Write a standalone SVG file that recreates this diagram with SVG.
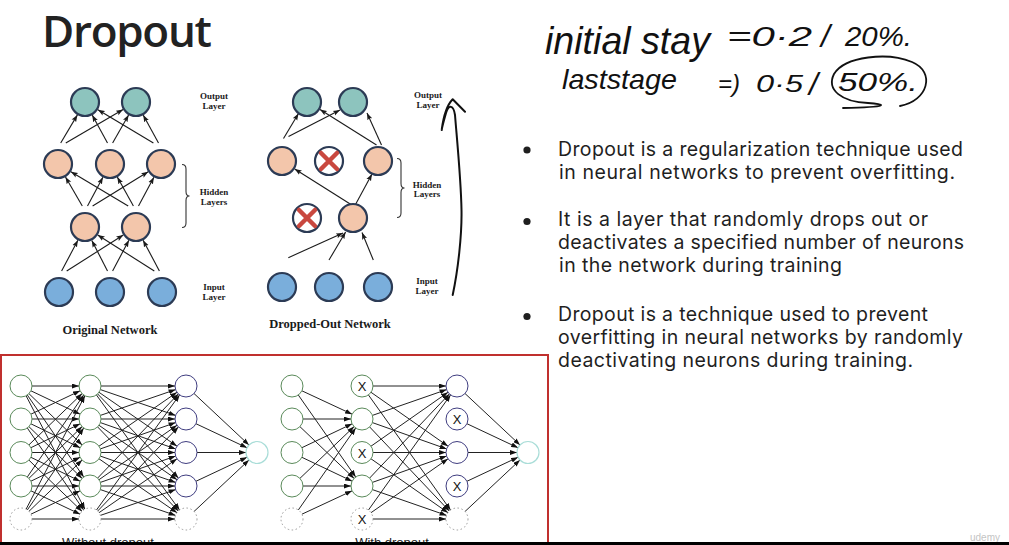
<svg xmlns="http://www.w3.org/2000/svg" width="1009" height="545" viewBox="0 0 1009 545">
  <style>
    .title { font-family: "Open Sans", "Liberation Sans", sans-serif; font-weight: 600; font-size: 44px; fill: #222; }
    .lbl { font-family: "Liberation Serif", serif; font-weight: bold; font-size: 9px; fill: #1a1a1a; text-anchor: middle; }
    .cap { font-family: "Liberation Serif", serif; font-weight: bold; font-size: 12.5px; fill: #1a1a1a; text-anchor: middle; }
    .hand { font-family: "Liberation Sans", sans-serif; font-style: italic; fill: #111; }
    .body { font-family: "Inter", "Liberation Sans", sans-serif; font-size: 19.5px; fill: #1f1f1f; }
    .out { fill: #8dc4be; stroke: #2c3b55; stroke-width: 2.2; }
    .hid { fill: #f3c6ab; stroke: #2c3b55; stroke-width: 2.2; }
    .inp { fill: #7aaedb; stroke: #2c3b55; stroke-width: 2.2; }
    .drop { fill: #ffffff; stroke: #2c3b55; stroke-width: 2.2; }
    .cross { stroke: #c9483f; stroke-width: 4.5; stroke-linecap: round; }
    .brace { fill: none; stroke: #333; stroke-width: 1.1; }
    .tl { stroke: #1a1a1a; stroke-width: 1.1; fill: none; marker-end: url(#ah); }
    .bl { stroke: #222; stroke-width: 1; fill: none; marker-end: url(#bh); }
    .g { fill: #fff; stroke: #5a8a5a; stroke-width: 1; }
    .p { fill: #fff; stroke: #3f3d80; stroke-width: 1; }
    .o { fill: #fff; stroke: #a9ddd8; stroke-width: 1.2; }
    .b { fill: #fff; stroke: #999; stroke-width: 1; stroke-dasharray: 1.5 2.5; }
    .x { font-family: "Liberation Sans", sans-serif; font-size: 13px; fill: #111; text-anchor: middle; }
    .small { font-family: "Liberation Sans", sans-serif; font-size: 13px; fill: #222; text-anchor: middle; }
  </style>
  <defs>
    <marker id="ah" markerUnits="userSpaceOnUse" markerWidth="7" markerHeight="6" refX="7" refY="3" orient="auto">
      <path d="M0,0.4 L7,3 L0,5.6 L1.4,3 z" fill="#1a1a1a"/>
    </marker>
    <marker id="bh" markerUnits="userSpaceOnUse" markerWidth="7" markerHeight="5" refX="7" refY="2.5" orient="auto">
      <path d="M0,0 L7,2.5 L0,5 z" fill="#111"/>
    </marker>
  </defs>

  <rect width="1009" height="545" fill="#ffffff"/>

  <!-- heading -->
  <text id="title" class="title" x="42" y="47" textLength="170">Dropout</text>

  <!-- handwritten notes -->
  <g id="notes">
    <text class="hand" x="545" y="54" font-size="38" textLength="165" lengthAdjust="spacingAndGlyphs">initial stay</text>
    <text class="hand" x="727" y="46" font-size="27" textLength="85" lengthAdjust="spacingAndGlyphs">=0·2</text>
    <text class="hand" x="821" y="47" font-size="32">/</text>
    <text class="hand" x="845" y="46" font-size="27" textLength="67" lengthAdjust="spacingAndGlyphs">20%.</text>
    <text class="hand" x="562" y="89" font-size="28" textLength="115" lengthAdjust="spacingAndGlyphs">laststage</text>
    <text class="hand" x="718" y="92" font-size="23" textLength="22" lengthAdjust="spacingAndGlyphs">=)</text>
    <text class="hand" x="756" y="92" font-size="23" textLength="47" lengthAdjust="spacingAndGlyphs">0·5</text>
    <text class="hand" x="809" y="95" font-size="32">/</text>
    <text class="hand" x="838" y="91" font-size="25" textLength="80" lengthAdjust="spacingAndGlyphs">50%.</text>
    <path d="M900,106 C928,101 936,72 912,62 C888,52 845,56 834,74 C826,90 842,102 868,103 C885,104 893,107 843,108" fill="none" stroke="#111" stroke-width="1.8" stroke-linecap="round"/>
  </g>

  <!-- bullet points -->
  <g id="bullets">
    <circle cx="527" cy="150" r="3.6" fill="#1f1f1f"/>
    <circle cx="527" cy="221.5" r="3.6" fill="#1f1f1f"/>
    <circle cx="527" cy="316.5" r="3.6" fill="#1f1f1f"/>
    <text class="body" x="558" y="156" textLength="405">Dropout is a regularization technique used</text>
    <text class="body" x="559" y="178.5" textLength="396">in neural networks to prevent overfitting.</text>
    <text class="body" x="558" y="226" textLength="370">It is a layer that randomly drops out or</text>
    <text class="body" x="558" y="248.5" textLength="406">deactivates a specified number of neurons</text>
    <text class="body" x="559" y="271.5" textLength="283">in the network during training</text>
    <text class="body" x="558" y="320.5" textLength="370">Dropout is a technique used to prevent</text>
    <text class="body" x="558" y="343.5" textLength="405">overfitting in neural networks by randomly</text>
    <text class="body" x="558" y="366.5" textLength="355">deactivating neurons during training.</text>
  </g>

  <!-- original network: connectors -->
  <g id="orig-edges">
    <path class="tl" d="M61.6,271 L77.9,240.2"/>
    <path class="tl" d="M66.7,271 L123.3,235"/>
    <path class="tl" d="M107.5,271 L91.8,240.4"/>
    <path class="tl" d="M112.6,271 L128.9,240.2"/>
    <path class="tl" d="M159.4,271 L143.1,240.2"/>
    <path class="tl" d="M154.3,271 L97.7,235"/>
    <path class="tl" d="M82.3,206 L65.5,177"/>
    <path class="tl" d="M87.5,206 L102.9,177.2"/>
    <path class="tl" d="M92.6,206 L148.2,171.8"/>
    <path class="tl" d="M128.2,206 L70.9,171.7"/>
    <path class="tl" d="M133.4,206 L117.3,177.1"/>
    <path class="tl" d="M138.5,206 L153.9,177.2"/>
    <path class="tl" d="M60.7,143 L77.4,114.9"/>
    <path class="tl" d="M65.8,143 L123.1,109.6"/>
    <path class="tl" d="M107.5,143 L92.2,115.1"/>
    <path class="tl" d="M112.6,143 L128.6,115"/>
    <path class="tl" d="M153.4,143 L97.9,109.7"/>
    <path class="tl" d="M158.5,143 L143.2,115.1"/>
  </g>
  <!-- original network: neurons -->
  <g id="orig-out1"><circle class="out" cx="85" cy="102" r="14"/></g>
  <g id="orig-out2"><circle class="out" cx="136" cy="102" r="14"/></g>
  <g id="orig-h1a"><circle class="hid" cx="58" cy="164" r="14"/></g>
  <g id="orig-h1b"><circle class="hid" cx="110" cy="164" r="14"/></g>
  <g id="orig-h1c"><circle class="hid" cx="161" cy="164" r="14"/></g>
  <g id="orig-h2a"><circle class="hid" cx="85" cy="227" r="14"/></g>
  <g id="orig-h2b"><circle class="hid" cx="136" cy="227" r="14"/></g>
  <g id="orig-in1"><circle class="inp" cx="59" cy="292" r="14"/></g>
  <g id="orig-in2"><circle class="inp" cx="110" cy="292" r="14"/></g>
  <g id="orig-in3"><circle class="inp" cx="162" cy="292" r="14"/></g>
  <g id="orig-labels">
    <text class="lbl" x="214" y="99">Output</text>
    <text class="lbl" x="214" y="109">Layer</text>
    <text class="lbl" x="214" y="195">Hidden</text>
    <text class="lbl" x="214" y="204.5">Layers</text>
    <text class="lbl" x="214" y="290">Input</text>
    <text class="lbl" x="214" y="300">Layer</text>
    <path class="brace" d="M182,164.5 Q186,164.5 186,169 L186,191.5 Q186,196 189.5,196 Q186,196 186,200.5 L186,223 Q186,227.5 182,227.5"/>
    <text class="cap" x="110" y="334">Original Network</text>
  </g>

  <!-- dropped-out network: connectors -->
  <g id="drop-edges">
    <path class="tl" d="M288.3,257.7 L343,233"/>
    <path class="tl" d="M329,260 L345.6,232"/>
    <path class="tl" d="M373.3,260 L362,232.5"/>
    <path class="tl" d="M351,204.5 L294.7,169"/>
    <path class="tl" d="M355.5,204.5 L372,174"/>
    <path class="tl" d="M283.5,138.5 L298.5,113.5"/>
    <path class="tl" d="M288.5,136.5 L340,110"/>
    <path class="tl" d="M376.5,145 L320,109.5"/>
    <path class="tl" d="M381.5,145 L367,113"/>
  </g>
  <!-- dropped-out network: neurons -->
  <g id="drop-out1"><circle class="out" cx="307" cy="102" r="14"/></g>
  <g id="drop-out2"><circle class="out" cx="353" cy="102" r="14"/></g>
  <g id="drop-h1a"><circle class="hid" cx="282" cy="161" r="14"/></g>
  <g id="drop-h1x"><circle class="drop" cx="329" cy="161" r="14"/><path class="cross" d="M321,153 L337,169 M337,153 L321,169"/></g>
  <g id="drop-h1c"><circle class="hid" cx="378" cy="161" r="14"/></g>
  <g id="drop-h2x"><circle class="drop" cx="307" cy="218" r="14"/><path class="cross" d="M299,210 L315,226 M315,210 L299,226"/></g>
  <g id="drop-h2b"><circle class="hid" cx="353" cy="218" r="14"/></g>
  <g id="drop-in1"><circle class="inp" cx="282" cy="287" r="14"/></g>
  <g id="drop-in2"><circle class="inp" cx="329" cy="287" r="14"/></g>
  <g id="drop-in3"><circle class="inp" cx="378" cy="287" r="14"/></g>
  <g id="drop-labels">
    <text class="lbl" x="428" y="98">Output</text>
    <text class="lbl" x="428" y="107.5">Layer</text>
    <text class="lbl" x="427" y="188">Hidden</text>
    <text class="lbl" x="427" y="197">Layers</text>
    <text class="lbl" x="427" y="283.5">Input</text>
    <text class="lbl" x="427" y="293.5">Layer</text>
    <path class="brace" d="M397,158.5 Q401,158.5 401,163 L401,183.5 Q401,188 404.5,188 Q401,188 401,192.5 L401,213 Q401,217.5 397,217.5"/>
    <text class="cap" x="330" y="328">Dropped-Out Network</text>
  </g>

  <!-- hand-drawn upward arrow -->
  <path id="pen-arrow" d="M452.7,295 C458,270 462,235 461.5,210 C461,180 457,140 455,115 C453.5,105 449,104 446,113 C444,120 442,127 441.7,130 C443,120 446,106 452.7,99.3 L465,111.7" fill="none" stroke="#111" stroke-width="2" stroke-linecap="round" stroke-linejoin="round"/>

  <!-- framed comparison panel -->
  <rect id="panel" x="1" y="355" width="547" height="200" fill="none" stroke="#c0302e" stroke-width="2"/>

  <!-- without dropout: connectors -->
  <g id="full-edges">
    <path class="bl" d="M32,386 L79,386"/>
    <path class="bl" d="M30.9,390.8 L80.1,414.2"/>
    <path class="bl" d="M28.9,393.6 L82.1,444.9"/>
    <path class="bl" d="M27.3,395 L83.7,477"/>
    <path class="bl" d="M26.1,395.8 L84.9,509.2"/>
    <path class="bl" d="M30.9,414.2 L80.1,390.8"/>
    <path class="bl" d="M32,419 L79,419"/>
    <path class="bl" d="M30.9,423.8 L80.1,447.7"/>
    <path class="bl" d="M28.9,426.6 L82.1,478.4"/>
    <path class="bl" d="M27.3,428 L83.7,510"/>
    <path class="bl" d="M28.9,444.9 L82.1,393.6"/>
    <path class="bl" d="M30.9,447.7 L80.1,423.8"/>
    <path class="bl" d="M32,452.5 L79,452.5"/>
    <path class="bl" d="M30.9,457.3 L80.1,481.2"/>
    <path class="bl" d="M28.9,460.1 L82.1,511.4"/>
    <path class="bl" d="M27.3,477 L83.7,395"/>
    <path class="bl" d="M28.9,478.4 L82.1,426.6"/>
    <path class="bl" d="M30.9,481.2 L80.1,457.3"/>
    <path class="bl" d="M32,486 L79,486"/>
    <path class="bl" d="M30.9,490.8 L80.1,514.2"/>
    <path class="bl" d="M26.1,509.2 L84.9,395.8"/>
    <path class="bl" d="M27.3,510 L83.7,428"/>
    <path class="bl" d="M28.9,511.4 L82.1,460.1"/>
    <path class="bl" d="M30.9,514.2 L80.1,490.8"/>
    <path class="bl" d="M32,519 L79,519"/>

    <path class="bl" d="M101,386 L175,386"/>
    <path class="bl" d="M100.4,389.6 L175.6,415.4"/>
    <path class="bl" d="M99,392.3 L177,446.2"/>
    <path class="bl" d="M97.6,393.9 L178.4,478.1"/>
    <path class="bl" d="M96.4,394.9 L179.6,510.1"/>
    <path class="bl" d="M100.4,415.4 L175.6,389.6"/>
    <path class="bl" d="M101,419 L175,419"/>
    <path class="bl" d="M100.4,422.6 L175.6,448.9"/>
    <path class="bl" d="M99,425.3 L177,479.7"/>
    <path class="bl" d="M97.6,426.9 L178.4,511.1"/>
    <path class="bl" d="M99,446.2 L177,392.3"/>
    <path class="bl" d="M100.4,448.9 L175.6,422.6"/>
    <path class="bl" d="M101,452.5 L175,452.5"/>
    <path class="bl" d="M100.4,456.1 L175.6,482.4"/>
    <path class="bl" d="M99,458.8 L177,512.7"/>
    <path class="bl" d="M97.6,478.1 L178.4,393.9"/>
    <path class="bl" d="M99,479.7 L177,425.3"/>
    <path class="bl" d="M100.4,482.4 L175.6,456.1"/>
    <path class="bl" d="M101,486 L175,486"/>
    <path class="bl" d="M100.4,489.6 L175.6,515.4"/>
    <path class="bl" d="M96.4,510.1 L179.6,394.9"/>
    <path class="bl" d="M97.6,511.1 L178.4,426.9"/>
    <path class="bl" d="M99,512.7 L177,458.8"/>
    <path class="bl" d="M100.4,515.4 L175.6,489.6"/>
    <path class="bl" d="M101,519 L175,519"/>

    <path class="bl" d="M194,393.5 L249,445"/>
    <path class="bl" d="M195.9,423.7 L247.1,447.8"/>
    <path class="bl" d="M197,452.5 L246,452.5"/>
    <path class="bl" d="M195.9,481.3 L247.1,457.2"/>
    <path class="bl" d="M194,511.5 L249,460"/>
  </g>
  <!-- without dropout: neurons -->
  <g id="full-l1">
    <circle class="g" cx="21" cy="386" r="11"/>
    <circle class="g" cx="21" cy="419" r="11"/>
    <circle class="g" cx="21" cy="452.5" r="11"/>
    <circle class="g" cx="21" cy="486" r="11"/>
    <circle class="b" cx="21" cy="519" r="11"/>
  </g>
  <g id="full-l2">
    <circle class="g" cx="90" cy="386" r="11"/>
    <circle class="g" cx="90" cy="419" r="11"/>
    <circle class="g" cx="90" cy="452.5" r="11"/>
    <circle class="g" cx="90" cy="486" r="11"/>
    <circle class="b" cx="90" cy="519" r="11"/>
  </g>
  <g id="full-l3">
    <circle class="p" cx="186" cy="386" r="11"/>
    <circle class="p" cx="186" cy="419" r="11"/>
    <circle class="p" cx="186" cy="452.5" r="11"/>
    <circle class="p" cx="186" cy="486" r="11"/>
    <circle class="b" cx="186" cy="519" r="11"/>
  </g>
  <g id="full-out"><circle class="o" cx="257" cy="452.5" r="11"/></g>
  <text class="small" x="108" y="547">Without dropout</text>

  <!-- with dropout: connectors -->
  <g id="thin-edges">
    <path class="bl" d="M301.9,390.8 L352.1,414.2"/>
    <path class="bl" d="M298.3,395 L355.7,477"/>
    <path class="bl" d="M303,419 L351,419"/>
    <path class="bl" d="M299.9,426.6 L354.1,478.4"/>
    <path class="bl" d="M301.9,447.7 L352.1,423.8"/>
    <path class="bl" d="M301.9,457.3 L352.1,481.2"/>
    <path class="bl" d="M299.9,478.4 L354.1,426.6"/>
    <path class="bl" d="M303,486 L351,486"/>
    <path class="bl" d="M298.3,510 L355.7,428"/>
    <path class="bl" d="M301.9,514.2 L352.1,490.8"/>

    <path class="bl" d="M373,386 L446,386"/>
    <path class="bl" d="M371,392.3 L448,446.2"/>
    <path class="bl" d="M368.4,394.9 L450.6,510.1"/>
    <path class="bl" d="M372.4,415.4 L446.6,389.6"/>
    <path class="bl" d="M372.4,422.6 L446.6,448.9"/>
    <path class="bl" d="M369.6,426.9 L449.4,511.1"/>
    <path class="bl" d="M371,446.2 L448,392.3"/>
    <path class="bl" d="M373,452.5 L446,452.5"/>
    <path class="bl" d="M371,458.8 L448,512.7"/>
    <path class="bl" d="M369.6,478.1 L449.4,393.9"/>
    <path class="bl" d="M372.4,482.4 L446.6,456.1"/>
    <path class="bl" d="M372.4,489.6 L446.6,515.4"/>
    <path class="bl" d="M368.4,510.1 L450.6,394.9"/>
    <path class="bl" d="M371,512.7 L448,458.8"/>
    <path class="bl" d="M373,519 L446,519"/>

    <path class="bl" d="M465,393.5 L520,445"/>
    <path class="bl" d="M466.9,423.7 L518.1,447.8"/>
    <path class="bl" d="M468,452.5 L517,452.5"/>
    <path class="bl" d="M466.9,481.3 L518.1,457.2"/>
    <path class="bl" d="M465,511.5 L520,460"/>
  </g>
  <!-- with dropout: neurons -->
  <g id="thin-l1">
    <circle class="g" cx="292" cy="386" r="11"/>
    <circle class="g" cx="292" cy="419" r="11"/>
    <circle class="g" cx="292" cy="452.5" r="11"/>
    <circle class="g" cx="292" cy="486" r="11"/>
    <circle class="b" cx="292" cy="519" r="11"/>
  </g>
  <g id="thin-l2">
    <circle class="g" cx="362" cy="386" r="11"/><text class="x" x="362" y="391">X</text>
    <circle class="g" cx="362" cy="419" r="11"/>
    <circle class="g" cx="362" cy="452.5" r="11"/><text class="x" x="362" y="457.5">X</text>
    <circle class="g" cx="362" cy="486" r="11"/>
    <circle class="b" cx="362" cy="519" r="11"/><text class="x" x="362" y="524">X</text>
  </g>
  <g id="thin-l3">
    <circle class="p" cx="457" cy="386" r="11"/>
    <circle class="p" cx="457" cy="419" r="11"/><text class="x" x="457" y="424">X</text>
    <circle class="p" cx="457" cy="452.5" r="11"/>
    <circle class="p" cx="457" cy="486" r="11"/><text class="x" x="457" y="491">X</text>
    <circle class="b" cx="457" cy="519" r="11"/>
  </g>
  <g id="thin-out"><circle class="o" cx="528" cy="452.5" r="11"/></g>
  <text class="small" x="392" y="547">With dropout</text>

  <text x="970" y="541" font-family="Liberation Sans, sans-serif" font-size="10" fill="#c4c4c4">udemy</text>

  <!-- bottom strip -->
  <rect x="0" y="542" width="1009" height="3" fill="#000"/>
</svg>
